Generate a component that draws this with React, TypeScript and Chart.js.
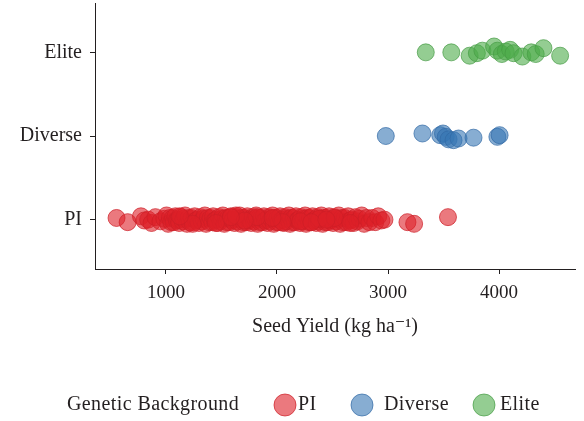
import React, { useEffect, useRef } from "react";
import { Chart, registerables } from "chart.js";

Chart.register(...registerables);

const CATEGORIES = ["PI", "Diverse", "Elite"];
const X_TICKS = [1000, 2000, 3000, 4000];
const LEGEND_TITLE = "Genetic Background";
const X_TITLE = "Seed Yield (kg ha\u207B\u00B9)";

const PI_YIELD = [
  555, 655, 775, 805, 840, 870, 905, 950, 985, 1005, 1020, 1035, 1048, 1062, 1070, 1085,
  1098, 1112, 1120, 1135, 1150, 1158, 1172, 1190, 1204, 1215, 1231, 1246, 1258, 1270, 1283,
  1297, 1310, 1322, 1338, 1350, 1361, 1377, 1390, 1402, 1418, 1425, 1440, 1452, 1466, 1478,
  1490, 1503, 1512, 1526, 1538, 1547, 1560, 1571, 1585, 1596, 1604, 1618, 1630, 1641, 1655,
  1663, 1677, 1689, 1700, 1712, 1725, 1733, 1748, 1756, 1769, 1781, 1794, 1805, 1812, 1826,
  1838, 1846, 1859, 1870, 1882, 1891, 1904, 1915, 1927, 1936, 1948, 1960, 1971, 1983, 1995,
  2004, 2016, 2027, 2038, 2050, 2061, 2073, 2082, 2094, 2107, 2118, 2126, 2139, 2150, 2162,
  2171, 2185, 2196, 2208, 2217, 2230, 2241, 2253, 2262, 2275, 2288, 2297, 2309, 2320, 2333,
  2342, 2355, 2366, 2378, 2387, 2399, 2411, 2424, 2436, 2445, 2458, 2469, 2481, 2493, 2506,
  2517, 2530, 2544, 2556, 2569, 2583, 2597, 2610, 2626, 2641, 2657, 2672, 2690, 2708, 2725,
  2744, 2763, 2785, 2808, 2832, 2858, 2885, 2912, 2940, 2968,
  1450, 1820, 2210, 2380, 1630, 1240, 2520, 2050, 1960, 2310, 1125, 1710, 2445, 2660, 1585,
];
const PI_JITTER = [0.02, -0.03, 0.04, -0.01, 0.0, -0.04, 0.03, -0.02, 0.01, 0.05, -0.05, 0.02, -0.03];
const PI_HIGH_YIELD = [3175, 3235, 3540];
const PI_HIGH_JITTER = [-0.03, -0.05, 0.03];

const DIVERSE_YIELD = [2980, 3310, 3470, 3495, 3520, 3545, 3590, 3635, 3770, 3985, 4005];
const DIVERSE_JITTER = [0.0, 0.03, 0.01, 0.03, -0.01, -0.04, -0.05, -0.03, -0.02, -0.01, 0.01];

const ELITE_YIELD = [3340, 3570, 3735, 3800, 3850, 3955, 3985, 4025, 4060, 4100, 4130, 4210, 4290, 4330, 4400, 4550];
const ELITE_JITTER = [0.0, 0.0, -0.04, -0.01, 0.02, 0.07, 0.02, -0.02, 0.01, 0.03, -0.01, -0.05, 0.0, -0.02, 0.05, -0.04];

const FILLS = ["rgba(222,32,40,0.6)", "rgba(55,118,180,0.6)", "rgba(77,172,74,0.6)"];
const EDGES = ["rgba(205,30,38,0.7)", "rgba(50,105,165,0.7)", "rgba(70,155,68,0.7)"];
const TEXT = "#231F20";
const FONT_FAMILY = "'Liberation Serif', 'DejaVu Serif', serif";

const legendPlugin = {
  id: "bottomLegend",
  afterDraw(chart: any) {
    const ctx = chart.ctx;
    ctx.save();
    ctx.font = `20px ${FONT_FAMILY}`;
    ctx.fillStyle = TEXT;
    ctx.textBaseline = "middle";
    ctx.textAlign = "left";
    try {
      (ctx as any).letterSpacing = "0.4px";
    } catch (e) {}
    const y = 405;
    ctx.fillText(LEGEND_TITLE, 67, y);
    const circleX = [285, 362, 484];
    const textX = [298, 384, 500];
    CATEGORIES.forEach((c, i) => {
      ctx.beginPath();
      ctx.arc(circleX[i], y, 11, 0, Math.PI * 2);
      ctx.fillStyle = FILLS[i];
      ctx.fill();
      ctx.strokeStyle = EDGES[i];
      ctx.lineWidth = 1;
      ctx.stroke();
      ctx.fillStyle = TEXT;
      ctx.fillText(c, textX[i], y);
    });
    ctx.restore();
  },
};

function points(values: number[], cat: number, jitter: number[]) {
  return values.map((v, i) => ({ x: v, y: cat + jitter[i % jitter.length] }));
}

export default function App() {
  const ref = useRef<HTMLCanvasElement>(null);
  useEffect(() => {
    if (!ref.current) return;
    const tickFont = { family: FONT_FAMILY, size: 19 };
    const labelFont = { family: FONT_FAMILY, size: 20 };
    const chart = new Chart(ref.current, {
      type: "scatter",
      data: {
        datasets: [
          {
            label: "PI",
            data: [...points(PI_YIELD, 0, PI_JITTER), ...points(PI_HIGH_YIELD, 0, PI_HIGH_JITTER)],
            backgroundColor: FILLS[0],
            borderColor: EDGES[0],
          },
          { label: "Diverse", data: points(DIVERSE_YIELD, 1, DIVERSE_JITTER), backgroundColor: FILLS[1], borderColor: EDGES[1] },
          { label: "Elite", data: points(ELITE_YIELD, 2, ELITE_JITTER), backgroundColor: FILLS[2], borderColor: EDGES[2] },
        ],
      },
      options: {
        animation: false,
        responsive: false,
        devicePixelRatio: 1,
        elements: { point: { radius: 8.5, borderWidth: 1, hoverRadius: 8.5 } },
        layout: { autoPadding: false, padding: { left: 0, right: 9, top: 3, bottom: 82 } },
        plugins: { legend: { display: false }, tooltip: { enabled: false } },
        scales: {
          x: {
            type: "linear",
            min: 361,
            max: 4684,
            afterBuildTicks: (s: any) => {
              s.ticks = X_TICKS.map((v) => ({ value: v }));
            },
            afterFit: (s: any) => {
              s.height = 70;
              s.paddingLeft = 0;
              s.paddingRight = 0;
            },
            ticks: { font: tickFont, color: TEXT, padding: 8, callback: (v: any) => String(v), maxRotation: 0 },
            grid: { drawOnChartArea: false, drawTicks: true, tickLength: 5, color: TEXT },
            border: { display: true, color: TEXT, width: 1 },
            title: { display: true, text: X_TITLE, font: labelFont, color: TEXT, padding: { top: 12, bottom: 0 } },
          },
          y: {
            type: "linear",
            min: -0.59,
            max: 2.59,
            afterBuildTicks: (s: any) => {
              s.ticks = CATEGORIES.map((_, i) => ({ value: i }));
            },
            afterFit: (s: any) => {
              s.width = 95;
              s.paddingTop = 0;
              s.paddingBottom = 0;
            },
            ticks: { font: labelFont, color: TEXT, padding: 8, callback: (v: any) => CATEGORIES[v] },
            grid: { drawOnChartArea: false, drawTicks: true, tickLength: 5, color: TEXT },
            border: { display: true, color: TEXT, width: 1 },
          },
        },
      },
      plugins: [legendPlugin],
    } as any);
    return () => chart.destroy();
  }, []);
  return (
    <div style={{ position: "fixed", left: 0, top: 0, width: 584, height: 421, background: "#fff" }}>
      <canvas ref={ref} width={584} height={421} style={{ display: "block" }} />
    </div>
  );
}
